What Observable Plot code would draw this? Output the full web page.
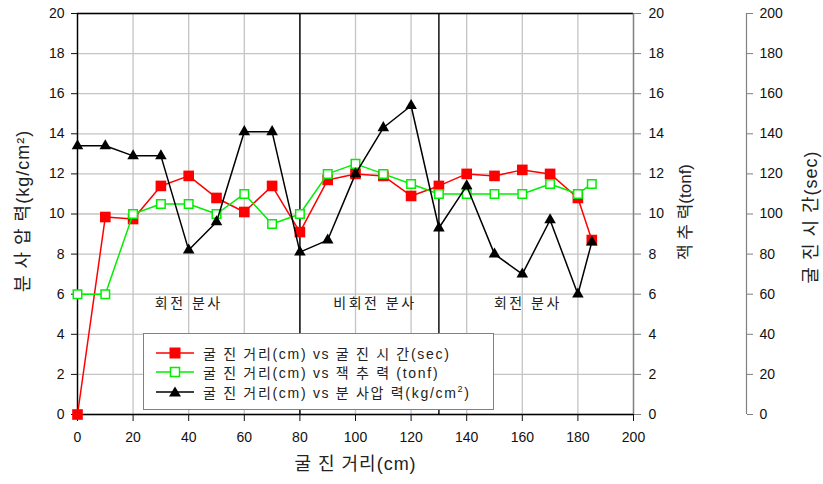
<!DOCTYPE html>
<html>
<head>
<meta charset="utf-8">
<script src="https://cdn.jsdelivr.net/npm/d3@7"></script>
<script src="https://cdn.jsdelivr.net/npm/@observablehq/plot@0.6"></script>
<style>
  html, body { margin: 0; padding: 0; background: #fff; }
  #wrap { position: relative; width: 823px; height: 484px; font-family: "Liberation Sans", "Noto Sans CJK KR", sans-serif; }
  #legend { position: absolute; left: 143px; top: 333px; width: 351px; height: 77px; border: 1px solid #808080; background: #fff; box-sizing: border-box; padding-top: 9px; }
  .row { display: flex; align-items: center; height: 19.5px; font-size: 14px; color: #222; letter-spacing: 1.7px; white-space: nowrap; }
  .row svg { margin-left: 11px; margin-right: 8px; flex: none; }
  sup { font-size: 9px; vertical-align: 6px; line-height: 0; }
</style>
</head>
<body>
<div id="wrap"></div>
<script>
const distance = [0, 10, 20, 30, 40, 50, 60, 70, 80, 90, 100, 110, 120, 130, 140, 150, 160, 170, 180, 185];
// 굴진시간 (sec), read on the 0–200 axis
const timeSec = [0, 98.5, 97.5, 114, 119, 108, 101, 114, 91, 117, 120, 119, 109, 114, 120, 119, 122, 120, 108, 87];
// 잭추력 (tonf)
const jackForce = [6, 6, 10, 10.5, 10.5, 10, 11, 9.5, 10, 12, 12.5, 12, 11.5, 11, 11, 11, 11, 11.5, 11, 11.5];
// 분사압력 (kg/cm2)
const jetPressure = [13.4, 13.4, 12.9, 12.9, 8.2, 9.6, 14.1, 14.1, 8.1, 8.7, 12.0, 14.3, 15.4, 9.3, 11.4, 8.0, 7.0, 9.7, 6.0, 8.6];

const xTicks = [0, 20, 40, 60, 80, 100, 120, 140, 160, 180, 200];
const yTicks = [0, 2, 4, 6, 8, 10, 12, 14, 16, 18, 20];
const dividers = [80, 130];
const zoneX = [40, 107, 162];
const zoneLabels = ["회전 분사", "비회전 분사", "회전 분사"];
const zoneY = 5.55;

const legendLabels = [
  "굴 진 거리(cm) vs 굴 진 시 간(sec)",
  "굴 진 거리(cm) vs 잭 추 력 (tonf)",
  "굴 진 거리(cm) vs 분 사압 력(kg/cm<sup>2</sup>)"
];
const xTitle = "굴 진 거리(cm)";
const axisTitles = ["분 사 압 력(kg/cm²)", "잭 추 력(tonf)", "굴 진 시 간(sec)"];

const red = distance.map((x, i) => ({x, y: timeSec[i] / 10}));
const green = distance.map((x, i) => ({x, y: jackForce[i]}));
const black = distance.map((x, i) => ({x, y: jetPressure[i]}));
const zones = zoneX.map((x, i) => ({x, y: zoneY, label: zoneLabels[i]}));

const chart = Plot.plot({
  width: 823,
  height: 484,
  marginLeft: 77,
  marginRight: 190,
  marginTop: 13,
  marginBottom: 70,
  style: {fontFamily: "'Liberation Sans', 'Noto Sans CJK KR', sans-serif", fontSize: "14px", color: "#111", background: "#fff"},
  x: {domain: [0, 200]},
  y: {domain: [0, 20]},
  marks: [
    Plot.gridX(xTicks, {stroke: "#c4c4c4", strokeOpacity: 1, strokeWidth: 1.3}),
    Plot.gridY(yTicks, {stroke: "#c4c4c4", strokeOpacity: 1, strokeWidth: 1.3}),
    Plot.ruleX(dividers, {stroke: "#000", strokeWidth: 1.4}),
    Plot.ruleY([0, 20], {stroke: "#000", strokeWidth: 1.4}),
    Plot.ruleX([0], {stroke: "#000", strokeWidth: 1.4}),
    Plot.ruleX([200], {stroke: "#808080", strokeWidth: 1.4}),
    Plot.ruleX([200], {stroke: "#808080", strokeWidth: 1.2, dx: 113}),
    Plot.axisX(xTicks, {anchor: "bottom", tickSize: 7, tickPadding: 11, fontSize: 14, label: null}),
    Plot.axisY(yTicks, {anchor: "left", tickSize: 6, tickPadding: 7, fontSize: 14, label: null}),
    Plot.axisY(yTicks, {anchor: "right", tickSize: 7, tickPadding: 8, fontSize: 14, label: null, stroke: "#808080"}),
    Plot.axisY(yTicks, {anchor: "right", tickSize: 6, tickPadding: 7, fontSize: 14, label: null, dx: 113, stroke: "#808080", tickFormat: d => d * 10}),
    Plot.text(zones, {x: "x", y: "y", text: "label", fontSize: 14, fill: "#222"}),
    Plot.line(red, {x: "x", y: "y", stroke: "#ff0000", strokeWidth: 1.5}),
    Plot.dot(red, {x: "x", y: "y", symbol: "square", r: 6, fill: "#ff0000", stroke: "none"}),
    Plot.line(green, {x: "x", y: "y", stroke: "#00ee00", strokeWidth: 1.5}),
    Plot.dot(green, {x: "x", y: "y", symbol: "square", r: 4.8, fill: "#fff", stroke: "#00ee00", strokeWidth: 1.5}),
    Plot.line(black, {x: "x", y: "y", stroke: "#000", strokeWidth: 1.5}),
    Plot.dot(black, {x: "x", y: "y", symbol: "triangle", r: 4.3, fill: "#000", stroke: "none"}),
    Plot.text([xTitle], {frameAnchor: "bottom", dy: 55, fontSize: 18, fill: "#222"}),
    Plot.text([axisTitles[0]], {frameAnchor: "left", textAnchor: "middle", rotate: -90, dx: -54, dy: -3, fontSize: 18, fill: "#222"}),
    Plot.text([axisTitles[1]], {frameAnchor: "right", textAnchor: "middle", rotate: -90, dx: 52, dy: -2, fontSize: 17, fill: "#222"}),
    Plot.text([axisTitles[2]], {frameAnchor: "right", textAnchor: "middle", rotate: -90, dx: 178, dy: 3, fontSize: 18, fill: "#222"})
  ]
});

d3.select(chart).selectAll("text")
  .filter(function() { return zoneLabels.includes(this.textContent); })
  .attr("letter-spacing", "2.5px");
d3.select(chart).selectAll("text")
  .filter(function() { return this.textContent === axisTitles[0] || this.textContent === axisTitles[2] || this.textContent === xTitle; })
  .attr("letter-spacing", "1px");

const wrap = document.getElementById("wrap");
wrap.appendChild(chart);

const legend = document.createElement("div");
legend.id = "legend";
const legendStyles = [
  {color: "#ff0000", marker: () => `<rect x="14.5" y="2.5" width="11" height="11" fill="#ff0000"/>`},
  {color: "#00ee00", marker: () => `<rect x="15.5" y="3.5" width="9" height="9" fill="#fff" stroke="#00ee00" stroke-width="1.5"/>`},
  {color: "#000", marker: () => `<path d="M20,2.5 L26,12.5 L14,12.5 Z" fill="#000"/>`}
];
legendLabels.forEach((lab, i) => {
  const row = document.createElement("div");
  row.className = "row";
  row.innerHTML = `<svg width="40" height="16"><line x1="1" x2="39" y1="8" y2="8" stroke="${legendStyles[i].color}" stroke-width="1.5"/>${legendStyles[i].marker()}</svg><span>${lab}</span>`;
  legend.appendChild(row);
});
wrap.appendChild(legend);
</script>
</body>
</html>
